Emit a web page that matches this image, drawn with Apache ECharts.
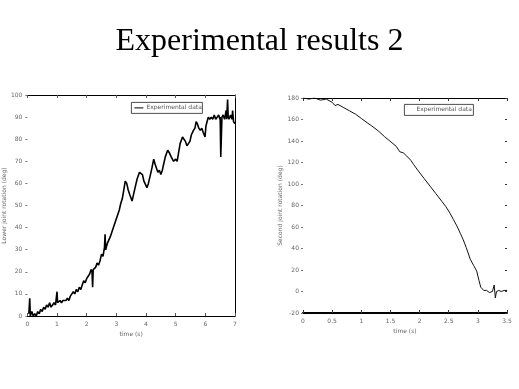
<!DOCTYPE html>
<html>
<head>
<meta charset="utf-8">
<script src="https://cdn.jsdelivr.net/npm/echarts@6/dist/echarts.min.js"></script>
<style>
html,body{margin:0;padding:0;background:#fff;}
#chart{width:519px;height:389px;}
</style>
</head>
<body>
<div id="chart"></div>
<script>
// ---- Data ----
var titleText = 'Experimental results 2';
var legendText = 'Experimental data';

var leftXLabel = 'time (s)';
var leftYLabel = 'Lower joint rotation (deg)';
var rightXLabel = 'time (s)';
var rightYLabel = 'Second joint rotation (deg)';

// Left plot: lower joint rotation vs time
var leftT = [0.05,0.08,0.1,0.15,0.2,0.25,0.3,0.35,0.4,0.45,0.5,0.55,0.6,0.65,0.7,0.75,0.8,0.85,0.9,0.95,
  1.0,1.02,1.1,1.15,1.2,1.3,1.35,1.4,1.45,1.5,1.55,1.6,1.65,1.7,1.75,1.8,1.85,1.9,1.95,2.0,
  2.05,2.1,2.15,2.18,2.2,2.22,2.3,2.35,2.4,2.45,2.5,2.55,2.6,2.62,2.64,2.7,2.8,2.9,3.0,3.1,
  3.15,3.2,3.25,3.3,3.35,3.4,3.45,3.53,3.58,3.63,3.7,3.78,3.83,3.88,3.93,4.0,4.03,4.08,4.15,4.2,
  4.26,4.3,4.35,4.4,4.45,4.5,4.55,4.6,4.65,4.73,4.78,4.85,4.93,5.0,5.05,5.1,5.15,5.23,5.28,5.33,
  5.38,5.43,5.48,5.53,5.6,5.65,5.69,5.73,5.78,5.83,5.88,5.93,5.99,6.02,6.06,6.1,6.15,6.2,6.25,6.3,
  6.35,6.4,6.45,6.49,6.5,6.52,6.56,6.6,6.65,6.7,6.72,6.75,6.77,6.8,6.85,6.9,6.92,6.95,7.0];
var leftY = [1,8,0,2,0,1,0,2,1,3,2,4,3,5,4,6,4,5,6,5,
  11,6,7,6,7,7,8,7,9,10,11,10,12,11,13,12,14,16,15,17,
  17,19,21,20,13,21,22,24,23,25,28,27,31,37,30,33,36,40,44,48,
  51,53,57,61,60,57,55,52,55,58,62,65,65,64,61,59,58,60,64,67,
  71,69,67,65,66,64,66,69,72,75,74,72,70,71,70,74,78,81,80,79,
  77,77,79,82,84,85,88,87,85,84,85,83,81,86,88,90,89,90,89,91,
  89,90,91,89,90,72,90,91,89,93,89,98,90,89,91,89,93,88,87];

// Right plot: second joint rotation vs time
var rightT = [0,0.1,0.2,0.3,0.4,0.5,0.55,0.6,0.7,0.8,0.9,1.0,1.1,1.18,1.3,1.4,1.49,1.6,1.66,1.72,
  1.78,1.85,1.9,1.98,2.08,2.18,2.28,2.38,2.45,2.52,2.58,2.64,2.7,2.75,2.8,2.87,2.93,2.98,3.02,3.05,
  3.1,3.15,3.2,3.25,3.28,3.3,3.32,3.36,3.4,3.45,3.5];
var rightY = [180,179,180,178,179,176,173,174,171,168,165,161,157,154,149,144,140,135,130,129,
  126,122,118,112,105,98,91,84,79,73,67,61,54,48,41,30,24,19,10,4,
  1,1,-1,0,6,-6,0,1,0,1,1];

var leftXTicks = [0,1,2,3,4,5,6,7];
var leftYTicks = [0,10,20,30,40,50,60,70,80,90,100];
var rightXTicks = [0,0.5,1,1.5,2,2.5,3,3.5];
var rightYTicks = [-20,0,20,40,60,80,100,120,140,160,180];

function zip(a,b){var r=[];for(var i=0;i<a.length;i++)r.push([a[i],b[i]]);return r;}

function small(){ return {fontFamily:'DejaVu Sans', fontSize:6, color:'#666'}; }
function lbl(m){ var s=small(); s.margin=m; return s; }

var chart = echarts.init(document.getElementById('chart'), null, {renderer:'canvas'});
var option = {
  backgroundColor:'#ffffff',
  animation:false,
  title:{
    text:titleText, left:'center', top:21,
    textStyle:{fontFamily:'Liberation Serif', fontSize:32, fontWeight:'normal', color:'#000'}
  },
  grid:[
    {left:27, top:95, width:208, height:221, show:false},
    {left:303, top:98, width:204, height:215, show:false}
  ],
  xAxis:[
    {gridIndex:0, type:'value', position:'bottom', min:leftXTicks[0], max:leftXTicks[leftXTicks.length-1], interval:1, name:leftXLabel,
     nameLocation:'middle', nameGap:13, nameTextStyle:small(),
     axisLine:{show:true, onZero:false, lineStyle:{color:'#000', width:1}},
     axisTick:{show:true, inside:true, length:3, lineStyle:{color:'#555'}},
     axisLabel:lbl(5), splitLine:{show:false}},
    {gridIndex:0, type:'value', position:'top', min:leftXTicks[0], max:leftXTicks[leftXTicks.length-1], interval:1,
     axisLine:{show:true, onZero:false, lineStyle:{color:'#000', width:1}},
     axisTick:{show:true, inside:true, length:3, lineStyle:{color:'#555'}},
     axisLabel:{show:false}, splitLine:{show:false}},
    {gridIndex:1, type:'value', position:'bottom', min:rightXTicks[0], max:rightXTicks[rightXTicks.length-1], interval:0.5, name:rightXLabel,
     nameLocation:'middle', nameGap:13, nameTextStyle:small(),
     axisLine:{show:true, onZero:false, lineStyle:{color:'#000', width:2}},
     axisTick:{show:true, inside:true, length:3, lineStyle:{color:'#333'}},
     axisLabel:lbl(5), splitLine:{show:false}},
    {gridIndex:1, type:'value', position:'top', min:rightXTicks[0], max:rightXTicks[rightXTicks.length-1], interval:0.5,
     axisLine:{show:true, onZero:false, lineStyle:{color:'#000', width:1}},
     axisTick:{show:true, inside:true, length:3, lineStyle:{color:'#333'}},
     axisLabel:{show:false}, splitLine:{show:false}}
  ],
  yAxis:[
    {gridIndex:0, type:'value', position:'left', min:leftYTicks[0], max:leftYTicks[leftYTicks.length-1], interval:10, name:leftYLabel,
     nameLocation:'middle', nameGap:15, nameTextStyle:small(),
     axisLine:{show:false, onZero:false},
     axisTick:{show:true, inside:false, length:2, lineStyle:{color:'#777'}},
     axisLabel:lbl(5), splitLine:{show:false}},
    {gridIndex:0, type:'value', position:'right', min:leftYTicks[0], max:leftYTicks[leftYTicks.length-1], interval:10,
     axisLine:{show:true, onZero:false, lineStyle:{color:'#000', width:1}},
     axisTick:{show:false}, axisLabel:{show:false}, splitLine:{show:false}},
    {gridIndex:1, type:'value', position:'left', min:rightYTicks[0], max:rightYTicks[rightYTicks.length-1], interval:20, name:rightYLabel,
     nameLocation:'middle', nameGap:15, nameTextStyle:small(),
     axisLine:{show:false, onZero:false},
     axisTick:{show:true, inside:false, length:2, lineStyle:{color:'#777'}},
     axisLabel:lbl(4), splitLine:{show:false}},
    {gridIndex:1, type:'value', position:'right', min:rightYTicks[0], max:rightYTicks[rightYTicks.length-1], interval:20,
     axisLine:{show:false, onZero:false},
     axisTick:{show:true, inside:true, length:2, lineStyle:{color:'#333'}},
     axisLabel:{show:false}, splitLine:{show:false}}
  ],
  series:[
    {type:'line', name:legendText, xAxisIndex:0, yAxisIndex:0, data:zip(leftT,leftY),
     showSymbol:false, lineStyle:{color:'#000', width:1.6}, z:3},
    {type:'line', name:legendText, xAxisIndex:2, yAxisIndex:2, data:zip(rightT,rightY),
     showSymbol:false, lineStyle:{color:'#111', width:1}, z:3}
  ],
  graphic:[
    {type:'group', left:131, top:102, children:[
      {type:'rect', shape:{x:0,y:0,width:71,height:11}, style:{fill:'#fff', stroke:'#222', lineWidth:0.8}},
      {type:'line', shape:{x1:3,y1:5.5,x2:12,y2:5.5}, style:{stroke:'#000', lineWidth:1}},
      {type:'text', style:{x:15, y:5.5, text:legendText, fontFamily:'DejaVu Sans', fontSize:6, fill:'#555', verticalAlign:'middle'}}
    ]},
    {type:'group', left:404, top:104, children:[
      {type:'rect', shape:{x:0,y:0,width:69,height:11}, style:{fill:'#fff', stroke:'#222', lineWidth:0.8}},
      {type:'text', style:{x:12, y:5.5, text:legendText, fontFamily:'DejaVu Sans', fontSize:6, fill:'#555', verticalAlign:'middle'}}
    ]}
  ]
};
chart.setOption(option);
</script>
</body>
</html>
